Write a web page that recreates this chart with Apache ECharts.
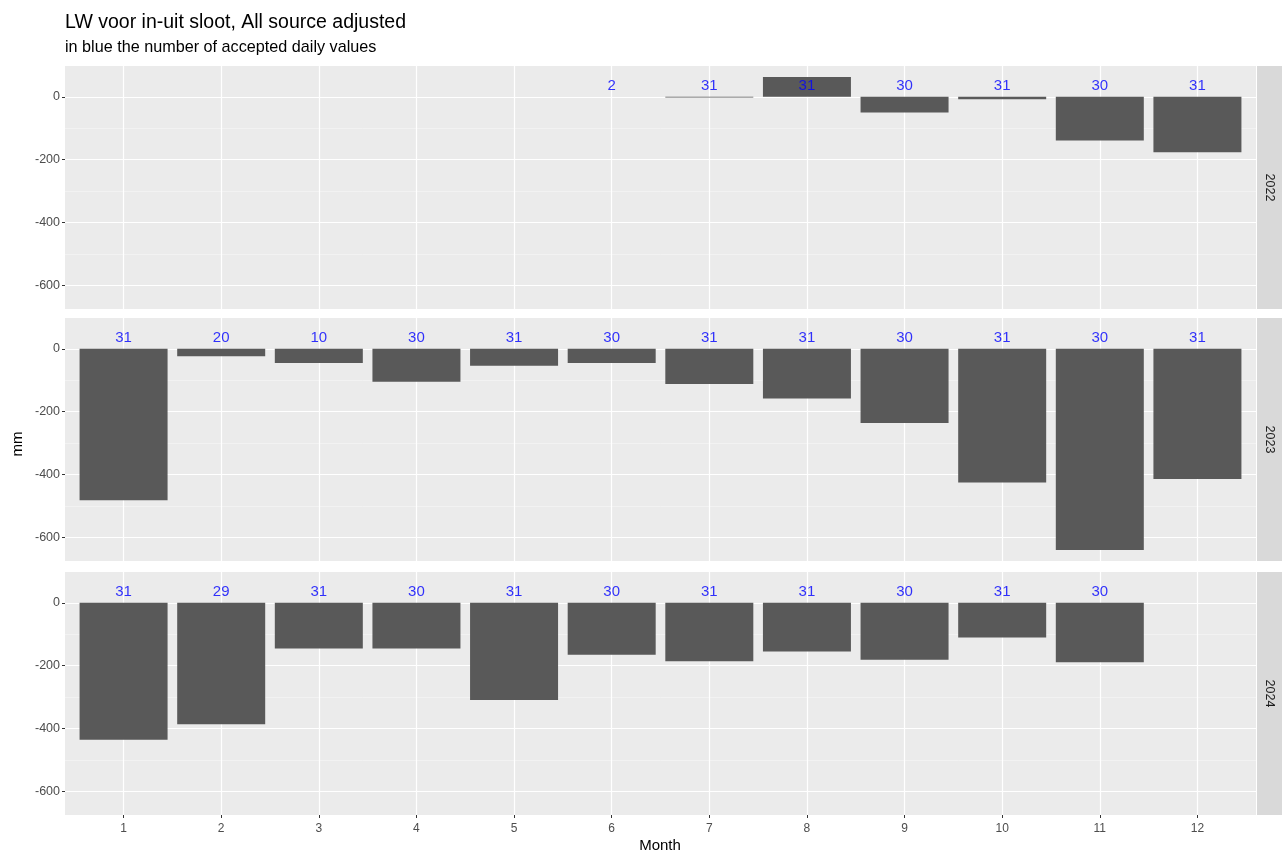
<!DOCTYPE html>
<html>
<head>
<meta charset="utf-8">
<script src="https://cdn.jsdelivr.net/npm/echarts@6/dist/echarts.min.js"></script>
<style>html,body{margin:0;padding:0;background:#fff}#c{width:1282px;height:854px}</style>
</head>
<body>
<div id="c"></div>
<script>
// ---- data ----
const months = [1,2,3,4,5,6,7,8,9,10,11,12];
const years = ['2022','2023','2024'];
const vals2022 = [null,null,null,null,null,0,-2,63,-50,-8,-139,-176];
const days2022 = [null,null,null,null,null,2,31,31,30,31,30,31];
const vals2023 = [-482,-24,-45,-105,-54,-45,-112,-158,-236,-425,-640,-414];
const days2023 = [31,20,10,30,31,30,31,31,30,31,30,31];
const vals2024 = [-436,-386,-145,-145,-309,-165,-186,-155,-181,-110,-189,null];
const days2024 = [31,29,31,30,31,30,31,31,30,31,30,null];
const yTicks = [0,-200,-400,-600];
const yMinor = [-100,-300,-500];
const yMin = -675, yMax = 98;

const valsByYear = [vals2022, vals2023, vals2024];
const daysByYear = [days2022, days2023, days2024];

// ---- layout ----
const gridLeft = 65, gridWidth = 1191;
const gridTops = [66, 318, 572];
const gridHeight = 243;
const LABEL_Y = 35;
const font = '"Liberation Sans", Arial, sans-serif';

const grids = [], xAxes = [], yAxes = [], series = [], graphics = [];

years.forEach((yr, i) => {
  grids.push({left: gridLeft, top: gridTops[i], width: gridWidth, height: gridHeight,
    show: true, backgroundColor: '#ebebeb', borderWidth: 0});
  const isBottom = i === years.length - 1;
  xAxes.push({
    type: 'value', gridIndex: i, min: 0.4, max: 12.6, position: 'bottom',
    axisLine: {show: false, onZero: false},
    axisTick: {show: isBottom, length: 3, lineStyle: {color: '#333', width: 1}, customValues: months},
    axisLabel: {show: isBottom, customValues: months, color: '#4d4d4d', fontSize: 12, fontFamily: font, margin: 8},
    splitLine: {show: true, lineStyle: {color: '#ffffff', width: 1.2}}
  });
  // major y
  yAxes.push({
    type: 'value', gridIndex: i, min: yMin, max: yMax, position: 'left',
    axisLine: {show: false, onZero: false},
    axisTick: {show: true, length: 3, lineStyle: {color: '#333', width: 1}, customValues: yTicks},
    axisLabel: {show: true, customValues: yTicks, color: '#4d4d4d', fontSize: 12.5, fontFamily: font, margin: 5},
    splitLine: {show: true, lineStyle: {color: '#ffffff', width: 1.2}}
  });
  // minor y
  yAxes.push({
    type: 'value', gridIndex: i, min: yMin, max: yMax, position: 'left',
    axisLine: {show: false, onZero: false},
    axisTick: {show: false, customValues: yMinor},
    axisLabel: {show: false, customValues: yMinor},
    splitLine: {show: true, lineStyle: {color: '#f7f7f7', width: 0.6}}
  });
  const vals = valsByYear[i], days = daysByYear[i];
  const barData = [], labData = [];
  months.forEach((m, k) => {
    if (vals[k] !== null) barData.push([m, vals[k]]);
    if (days[k] !== null) labData.push([m, LABEL_Y, days[k]]);
  });
  series.push({
    type: 'bar', xAxisIndex: i, yAxisIndex: 2*i, data: barData,
    barWidth: 88, itemStyle: {color: '#595959'}, silent: true, z: 2
  });
  series.push({
    type: 'scatter', xAxisIndex: i, yAxisIndex: 2*i, data: labData,
    symbolSize: 0, z: 5, silent: true,
    label: {show: true, position: 'inside', formatter: p => String(p.value[2]),
      color: '#0000ff', fontSize: 15, fontFamily: font}
  });
  // facet strip
  graphics.push({type: 'rect', shape: {x: gridLeft + gridWidth + 1, y: gridTops[i], width: 25, height: gridHeight},
    style: {fill: '#d9d9d9'}, silent: true});
  graphics.push({type: 'text', x: gridLeft + gridWidth + 13.5, y: gridTops[i] + gridHeight/2, rotation: -Math.PI/2,
    style: {text: yr, fill: '#1a1a1a', fontSize: 12.5, fontFamily: font, align: 'center', verticalAlign: 'middle'}});
});

graphics.push({type: 'text', left: 65, top: 13,
  style: {text: 'LW voor in-uit sloot, All source adjusted', fill: '#000', fontSize: 19.5, fontFamily: font}});
graphics.push({type: 'text', left: 65, top: 40,
  style: {text: 'in blue the number of accepted daily values', fill: '#000', fontSize: 16.2, fontFamily: font}});
graphics.push({type: 'text', x: 18, y: 444, rotation: Math.PI/2,
  style: {text: 'mm', fill: '#000', fontSize: 15, fontFamily: font, align: 'center', verticalAlign: 'middle'}});
graphics.push({type: 'text', x: 660, y: 846,
  style: {text: 'Month', fill: '#000', fontSize: 15, fontFamily: font, align: 'center', verticalAlign: 'middle'}});

const chart = echarts.init(document.getElementById('c'), null, {renderer: 'canvas'});
chart.setOption({
  animation: false,
  backgroundColor: '#ffffff',
  grid: grids, xAxis: xAxes, yAxis: yAxes, series: series, graphic: graphics
});
</script>
</body>
</html>
